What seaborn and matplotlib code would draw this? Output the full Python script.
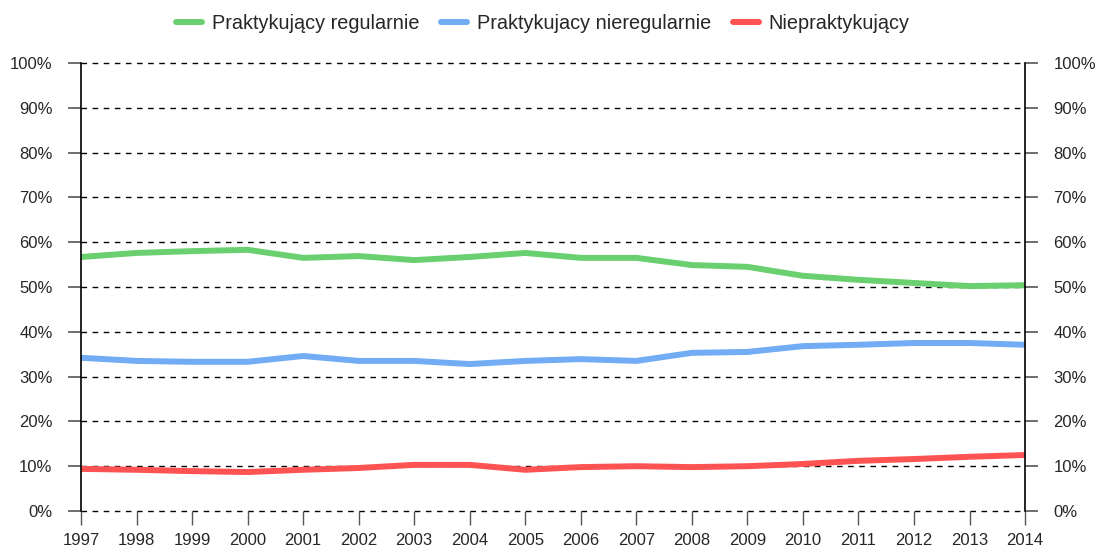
import numpy as np
import pandas as pd
import matplotlib.pyplot as plt
import seaborn as sns
from matplotlib.ticker import PercentFormatter

years = list(range(1997, 2015))
regular = [56.7, 57.6, 58.0, 58.3, 56.5, 56.9, 56.0, 56.7, 57.6, 56.5,
           56.5, 54.9, 54.5, 52.5, 51.6, 50.9, 50.2, 50.4]
irregular = [34.2, 33.5, 33.3, 33.3, 34.6, 33.5, 33.5, 32.8, 33.5, 33.9,
             33.5, 35.3, 35.5, 36.8, 37.1, 37.5, 37.5, 37.1]
non_practicing = [9.4, 9.2, 8.9, 8.7, 9.2, 9.6, 10.3, 10.3, 9.2, 9.8,
                  10.0, 9.8, 10.0, 10.5, 11.2, 11.6, 12.1, 12.5]
series_names = ["Praktykujący regularnie", "Praktykujacy nieregularnie", "Niepraktykujący"]
colors = ["#6ad06f", "#71acf5", "#ff5252"]

df = pd.DataFrame({
    "year": years * 3,
    "value": regular + irregular + non_practicing,
    "series": [s for s in series_names for _ in years],
})

sns.set_theme(style="white")
plt.rcParams["font.family"] = ["Liberation Sans", "DejaVu Sans"]

fig = plt.figure(figsize=(10.99, 5.5), dpi=100)
ax = fig.add_axes([0.0737, 0.0709, 0.8590, 0.8146])

sns.lineplot(data=df, x="year", y="value", hue="series", hue_order=series_names,
             palette=colors, linewidth=4.3, ax=ax, solid_capstyle="round")

ax.set_xlim(1997, 2014)
ax.set_ylim(0, 100)
ax.set_xticks(years)
ax.set_yticks(range(0, 101, 10))
ax.yaxis.set_major_formatter(PercentFormatter(decimals=0))
ax.set_xlabel("")
ax.set_ylabel("")

# dashed horizontal grid, including the 0% and 100% edges
for y in range(0, 101, 10):
    ax.axhline(y, color="black", linestyle=(0, (4, 4)), linewidth=1.0, zorder=0, clip_on=False)

for side in ["top", "bottom"]:
    ax.spines[side].set_visible(False)
for side in ["left", "right"]:
    ax.spines[side].set_color("black")
    ax.spines[side].set_linewidth(1.2)

ax.tick_params(axis="y", which="both", left=True, right=True, labelleft=True, labelright=True,
               length=9.5, width=1.2, color="#555555", labelsize=12, pad=11, direction="out")
ax.tick_params(axis="x", bottom=True, length=10, width=1.0, color="#555555",
               labelsize=12, pad=6, direction="out")

handles, labels = ax.get_legend_handles_labels()
for h in handles:
    h.set_linewidth(4.3)
    h.set_solid_capstyle("round")
ax.legend(handles, labels, loc="upper center", bbox_to_anchor=(0.489, 1.15), ncol=3,
          frameon=False, fontsize=14.3, handlelength=1.3, columnspacing=1.1, handletextpad=0.5)

fig.savefig("out.png", dpi=100)
